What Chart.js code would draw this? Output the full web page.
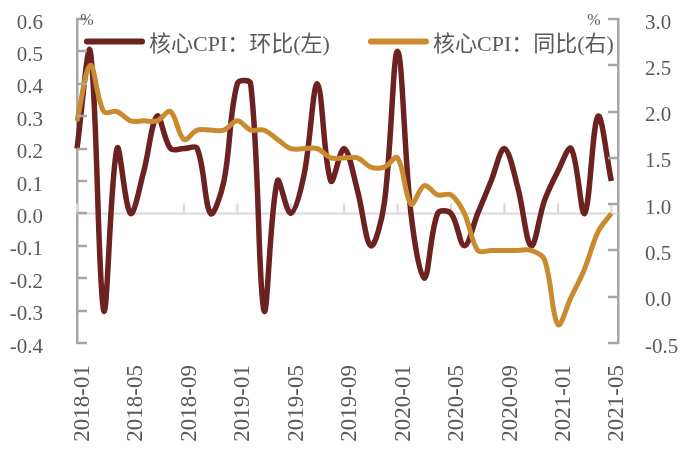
<!DOCTYPE html>
<html><head><meta charset="utf-8">
<script src="https://cdn.jsdelivr.net/npm/chart.js@4"></script>
<style>html,body{margin:0;padding:0;background:#fff;}#wrap{width:689px;height:451px;}</style>
</head><body><div id="wrap"><canvas id="c" width="689" height="451"></canvas></div>
<script>
const months = ['2018-01','2018-02','2018-03','2018-04','2018-05','2018-06','2018-07','2018-08','2018-09','2018-10','2018-11','2018-12',
'2019-01','2019-02','2019-03','2019-04','2019-05','2019-06','2019-07','2019-08','2019-09','2019-10','2019-11','2019-12',
'2020-01','2020-02','2020-03','2020-04','2020-05','2020-06','2020-07','2020-08','2020-09','2020-10','2020-11','2020-12',
'2021-01','2021-02','2021-03','2021-04','2021-05'];
const momValues = [0.2,0.5,-0.3,0.2,0.0,0.13,0.3,0.2,0.2,0.2,0.0,0.1,0.4,0.4,-0.3,0.1,0.0,0.12,0.4,0.1,0.2,0.07,-0.1,0.03,0.5,0.0,-0.2,0.0,0.0,-0.1,0.0,0.1,0.2,0.08,-0.1,0.04,0.13,0.2,0.0,0.3,0.1];
const yoyValues = [1.9,2.5,2.0,2.0,1.9,1.9,1.9,2.0,1.7,1.8,1.8,1.8,1.9,1.8,1.8,1.7,1.6,1.6,1.6,1.5,1.5,1.5,1.4,1.4,1.5,1.0,1.2,1.1,1.1,0.9,0.5,0.5,0.5,0.5,0.5,0.4,-0.3,0.0,0.3,0.7,0.9];
const leftTicks = [-0.4,-0.3,-0.2,-0.1,0.0,0.1,0.2,0.3,0.4,0.5,0.6];
const rightTicks = [-0.5,0.0,0.5,1.0,1.5,2.0,2.5,3.0];
const xTickLabels = ['2018-01','2018-05','2018-09','2019-01','2019-05','2019-09','2020-01','2020-05','2020-09','2021-01','2021-05'];
const seriesNames = ['核心CPI：环比(左)','核心CPI：同比(右)'];
const unitLabel = '%';

const RED = '#6d2222', YEL = '#c98a30', AXIS = '#a6a6a6', TXT = '#595959';
const xIdx = xTickLabels.map(l => months.indexOf(l));

const deco = {
  id: 'deco',
  beforeDatasetsDraw(chart) {
    const {ctx, chartArea: a, scales} = chart;
    const y0 = scales.y.getPixelForValue(0);
    ctx.save();
    ctx.strokeStyle = '#d9d9d9'; ctx.lineWidth = 2;
    ctx.beginPath(); ctx.moveTo(a.left, y0); ctx.lineTo(a.right, y0); ctx.stroke();
    xIdx.forEach(i => { const px = scales.x.getPixelForValue(i); ctx.beginPath(); ctx.moveTo(px, y0); ctx.lineTo(px, y0 - 10); ctx.stroke(); });
    ctx.restore();
  },
  afterDraw(chart) {
    const {ctx, chartArea: a, scales} = chart;
    ctx.save();
    ctx.strokeStyle = AXIS; ctx.lineWidth = 2.5;
    leftTicks.forEach(v => { const py = Math.round(scales.y.getPixelForValue(v)); ctx.beginPath(); ctx.moveTo(a.left, py); ctx.lineTo(a.left + 10, py); ctx.stroke(); });
    rightTicks.forEach(v => { const py = Math.round(scales.y1.getPixelForValue(v)); ctx.beginPath(); ctx.moveTo(a.right, py); ctx.lineTo(a.right - 10, py); ctx.stroke(); });
    ctx.fillStyle = TXT;
    ctx.font = '16px "Liberation Serif"';
    ctx.textBaseline = 'middle'; ctx.textAlign = 'center';
    ctx.fillText(unitLabel, a.left + 10, 21);
    ctx.fillText(unitLabel, a.right - 24, 21);
    // legend
    const items = [{x: a.left + 10, ds: chart.data.datasets[0]}, {x: a.left + 294, ds: chart.data.datasets[1]}];
    ctx.font = '22px "Liberation Serif", "Noto Sans CJK SC"';
    ctx.textAlign = 'left';
    items.forEach(it => {
      ctx.strokeStyle = it.ds.borderColor; ctx.lineWidth = 6; ctx.lineCap = 'round';
      ctx.beginPath(); ctx.moveTo(it.x, 41.5); ctx.lineTo(it.x + 55, 41.5); ctx.stroke();
      ctx.fillStyle = TXT;
      ctx.fillText(it.ds.label, it.x + 62, 45);
    });
    ctx.restore();
  }
};

const noPad = s => { s.paddingTop = 0; s.paddingBottom = 0; };

new Chart(document.getElementById('c'), {
  type: 'line',
  data: {
    datasets: [
      {label: seriesNames[0], data: momValues.map((v, i) => ({x: i, y: v})), yAxisID: 'y', borderColor: RED, borderWidth: 5.5, pointRadius: 0, tension: 0.35, order: 1, clip: false},
      {label: seriesNames[1], data: yoyValues.map((v, i) => ({x: i, y: v})), yAxisID: 'y1', borderColor: YEL, borderWidth: 5, pointRadius: 0, tension: 0.35, order: 0, clip: false}
    ]
  },
  options: {
    responsive: false, animation: false, devicePixelRatio: 1,
    layout: {padding: {top: 19, left: 0, right: 0, bottom: 0}},
    plugins: {legend: {display: false}, tooltip: {enabled: false}},
    scales: {
      x: {
        type: 'linear', min: 0, max: 40.5,
        grid: {display: false, drawTicks: false}, border: {display: false},
        afterBuildTicks: s => { s.ticks = xIdx.map(v => ({value: v})); },
        ticks: {autoSkip: false, minRotation: 90, maxRotation: 90, padding: 22, labelOffset: 6, color: TXT,
          font: {family: 'Liberation Serif', size: 23}, callback: v => months[v]},
        afterFit: s => { s.height = 108; s.paddingLeft = 0; s.paddingRight = 0; }
      },
      y: {
        position: 'left', min: -0.4, max: 0.6,
        grid: {display: false, drawTicks: false}, border: {display: true, color: AXIS, width: 2.5},
        afterBuildTicks: s => { s.ticks = leftTicks.map(v => ({value: v})); },
        ticks: {padding: 34, labelOffset: 4, color: TXT, font: {family: 'Liberation Serif', size: 21}, callback: v => v.toFixed(1)},
        afterFit: s => { s.width = 77; noPad(s); }
      },
      y1: {
        position: 'right', min: -0.5, max: 3.0,
        grid: {display: false, drawTicks: false}, border: {display: true, color: AXIS, width: 2.5},
        afterBuildTicks: s => { s.ticks = rightTicks.map(v => ({value: v})); },
        ticks: {padding: 27, labelOffset: 4, color: TXT, font: {family: 'Liberation Serif', size: 21}, callback: v => v.toFixed(1)},
        afterFit: s => { s.width = 71; noPad(s); }
      }
    }
  },
  plugins: [deco]
});
</script></body></html>
